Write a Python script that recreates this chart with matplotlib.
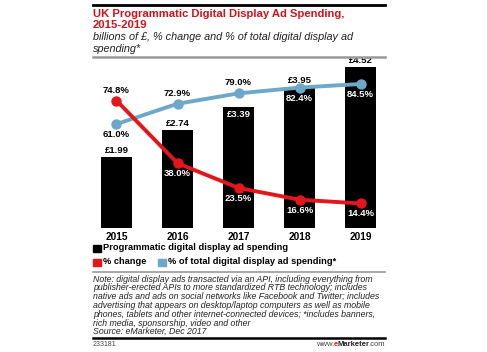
import matplotlib
matplotlib.use("Agg")
import matplotlib.pyplot as plt
from matplotlib.lines import Line2D
from matplotlib.patches import Rectangle

# data
years = ["2015", "2016", "2017", "2018", "2019"]
spend = [1.99, 2.74, 3.39, 3.95, 4.52]
spend_labels = ["£1.99", "£2.74", "£3.39", "£3.95", "£4.52"]
pct_change = [74.8, 38.0, 23.5, 16.6, 14.4]
pct_total = [61.0, 72.9, 79.0, 82.4, 84.5]

RED = "#e3161b"
BLUE = "#6ea8c9"
TITLE_RED = "#d4111a"

plt.rcParams["font.family"] = ["Liberation Sans", "DejaVu Sans"]

W, H = 487, 352
fig = plt.figure(figsize=(W / 100, H / 100), dpi=100)

def fx(px):
    return px / W

def fy(py):
    return 1 - py / H

L, R = 93, 385
ax = fig.add_axes([fx(L), fy(228), fx(R) - fx(L), fy(62) - fy(228)])
x = list(range(len(years)))
ax.bar(x, spend, width=0.51, color="black", zorder=1)
ax.set_xlim(-0.385, 4.40)
ax.set_ylim(0, 4.66)
ax.set_xticks(x)
ax.set_xticklabels(years, fontsize=7.3, fontweight="bold")
ax.tick_params(axis="x", length=0, pad=3)
ax.set_yticks([])
for s in ax.spines.values():
    s.set_visible(False)

# bar value labels (inside bar for 2017)
for i, (v, t) in enumerate(zip(spend, spend_labels)):
    if i == 2:
        ax.text(i, v - 0.08, t, ha="center", va="top", fontsize=6.8,
                fontweight="bold", color="white")
    else:
        ax.text(i, v + 0.06, t, ha="center", va="bottom", fontsize=6.8,
                fontweight="bold", color="black")

ax2 = ax.twinx()
ax2.set_ylim(0, 97.4)
ax2.set_yticks([])
for s in ax2.spines.values():
    s.set_visible(False)
ax2.plot(x, pct_total, color=BLUE, lw=2.8, marker="o", ms=6.5, zorder=3)
ax2.plot(x, pct_change, color=RED, lw=2.8, marker="o", ms=6.5, zorder=3)

# % of total labels
blue_pos = ["below", "above", "above", "below", "below"]
for i, (v, p) in enumerate(zip(pct_total, blue_pos)):
    col = "white" if i >= 3 else "black"
    if p == "above":
        ax2.text(i, v + 3.5, f"{v:.1f}%", ha="center", va="bottom",
                 fontsize=6.8, fontweight="bold", color=col)
    else:
        ax2.text(i, v - 3.5, f"{v:.1f}%", ha="center", va="top",
                 fontsize=6.8, fontweight="bold", color=col)

# % change labels
for i, v in enumerate(pct_change):
    if i == 0:
        ax2.text(i, v + 3.5, f"{v:.1f}%", ha="center", va="bottom",
                 fontsize=6.8, fontweight="bold", color="black")
    else:
        ax2.text(i, v - 3.5, f"{v:.1f}%", ha="center", va="top",
                 fontsize=6.8, fontweight="bold", color="white")

# rules
fig.add_artist(Line2D([fx(L), fx(R)], [fy(5), fy(5)], color="black", lw=2))
fig.add_artist(Line2D([fx(L), fx(R)], [fy(57), fy(57)], color="#999999", lw=1.8))
fig.add_artist(Line2D([fx(L), fx(R)], [fy(272), fy(272)], color="#999999", lw=1.2))
fig.add_artist(Line2D([fx(L), fx(R)], [fy(338), fy(338)], color="black", lw=1.8))

# title and subtitle
fig.text(fx(L), fy(17), "UK Programmatic Digital Display Ad Spending,",
         ha="left", va="baseline", fontsize=8.1, fontweight="bold", color=TITLE_RED)
fig.text(fx(L), fy(27.5), "2015-2019",
         ha="left", va="baseline", fontsize=8.1, fontweight="bold", color=TITLE_RED)
fig.text(fx(L), fy(39.5), "billions of £, % change and % of total digital display ad",
         ha="left", va="baseline", fontsize=7.8, style="italic", color="#222222")
fig.text(fx(L), fy(51.5), "spending*",
         ha="left", va="baseline", fontsize=7.8, style="italic", color="#222222")

# legend
def legend_item(px, py, color, label):
    fig.add_artist(Rectangle((fx(px), fy(py + 4)), fx(7.5), 7.5 / H, color=color,
                             transform=fig.transFigure))
    fig.text(fx(px + 10), fy(py), label, ha="left", va="center",
             fontsize=6.7, fontweight="bold")

legend_item(93, 248, "black", "Programmatic digital display ad spending")
legend_item(93, 262, RED, "% change")
legend_item(158, 262, BLUE, "% of total digital display ad spending*")

note_lines = [
    "Note: digital display ads transacted via an API, including everything from",
    "publisher-erected APIs to more standardized RTB technology; includes",
    "native ads and ads on social networks like Facebook and Twitter; includes",
    "advertising that appears on desktop/laptop computers as well as mobile",
    "phones, tablets and other internet-connected devices; *includes banners,",
    "rich media, sponsorship, video and other",
    "Source: eMarketer, Dec 2017",
]
for k, line in enumerate(note_lines):
    fig.text(fx(L), fy(281.5 + k * 8.8), line, ha="left", va="baseline",
             fontsize=6.35, style="italic", color="#222222")

fig.text(fx(L), fy(345), "233181", ha="left", va="center", fontsize=5,
         color="#444444")

# footer brand: www. e Marketer .com, laid out right to left
renderer = fig.canvas.get_renderer()
parts = [(".com", "normal", "#444444"), ("Marketer", "bold", "#222222"),
         ("e", "bold", RED), ("www.", "normal", "#444444")]
xr = R
for txt, wt, col in parts:
    t = fig.text(fx(xr), fy(345), txt, ha="right", va="center", fontsize=5.5,
                 fontweight=wt, color=col)
    bb = t.get_window_extent(renderer=renderer)
    xr -= bb.width - 0.6

fig.savefig("out.png", dpi=100)
